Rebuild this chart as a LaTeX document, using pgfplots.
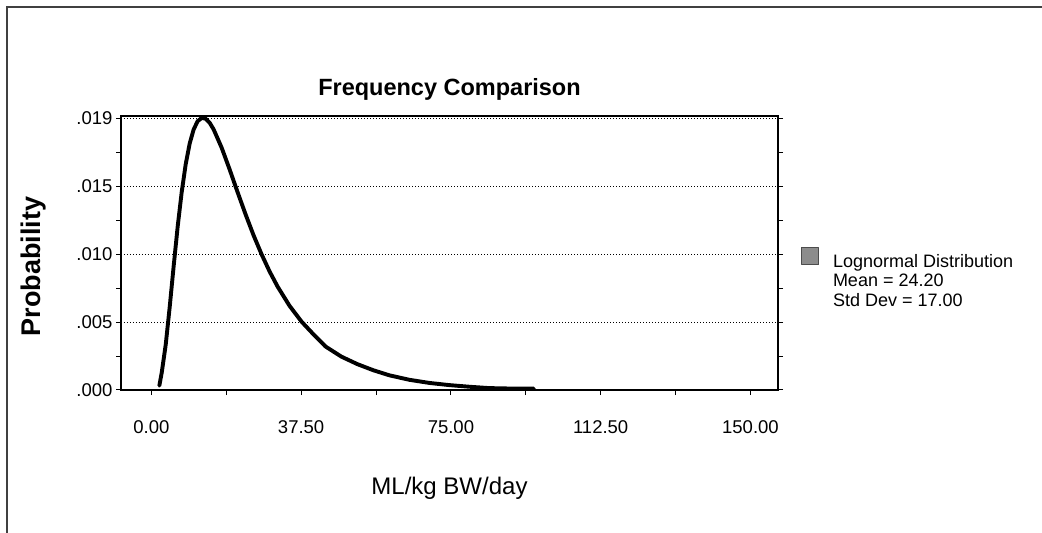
\documentclass[border=0pt]{standalone}
\usepackage{fontspec}
\setmainfont{Liberation Sans}
\usepackage{pgfplots}
\pgfplotsset{compat=1.18}
\begin{document}
\begin{tikzpicture}[x=1pt,y=1pt]
\useasboundingbox (0,0) rectangle (1042,533);
\draw[line width=1.4pt, black!75] (7,0) -- (7,526) -- (1042,526);
\begin{axis}[
  at={(121pt,143pt)}, anchor=south west,
  scale only axis, width=657pt, height=274pt,
  xmin=-7.6, xmax=156.9, ymin=0, ymax=0.02015,
  clip=false,
  scaled y ticks=false, scaled x ticks=false,
  axis line style={line width=1.3pt},
  xtick={0,37.5,75,112.5,150},
  xticklabels={0.00,37.50,75.00,112.50,150.00},
  ytick={0,0.005,0.01,0.015,0.02},
  yticklabels={.000,.005,.010,.015,.019},
  minor x tick num=1, minor y tick num=1,
  tick align=outside, xtick pos=bottom, ytick pos=both, yticklabel pos=left,
  major tick length=5pt, minor tick length=5pt,
  every tick/.style={line width=1pt, black},
  ymajorgrids,
  major grid style={line width=1pt, dash pattern=on 1pt off 2pt, black},
  /pgf/number format/assume math mode=true,
  every tick label/.append style={font=\fontsize{18.5}{20}\selectfont},
  xticklabel style={anchor=north, yshift=-22pt},
  title={Frequency Comparison},
  title style={font=\fontsize{23.5}{25}\selectfont\bfseries, at={(axis description cs:0.5,1.0545)}, anchor=base},
  xlabel={ML/kg BW/day},
  xlabel style={font=\fontsize{24}{26}\selectfont, at={(axis description cs:0.5,-0.383)}, anchor=base},
  ylabel={Probability},
  ylabel style={font=\fontsize{27}{28}\selectfont\bfseries, at={(axis description cs:-0.1324,0.45)}, anchor=center},
  legend style={draw=none, fill=none, at={(axis description cs:1.035,0.522)}, anchor=north west,
    font=\fontsize{18}{19.3}\selectfont, cells={anchor=base west}, inner sep=0pt,
    /tikz/every odd column/.append style={column sep=12pt}},
  legend image code/.code={\draw[fill=black!45, draw=black!70, line width=0.8pt] (0pt,3pt) rectangle (17pt,20pt);},
]
\addplot[black, line width=3.9pt, line join=round, line cap=round] coordinates {
(2.0,0.00032) (2.6,0.00128) (3.6,0.00334) (4.6,0.00612) (5.6,0.00915)
(6.6,0.01204) (7.6,0.01456) (8.6,0.01660) (9.6,0.01813) (10.6,0.01917)
(11.6,0.01977) (12.6,0.02001) (13.6,0.01995) (14.6,0.01965) (15.6,0.01916)
(17.6,0.01782) (19.6,0.01622) (21.6,0.01454) (23.6,0.01291) (25.6,0.01137)
(27.6,0.00998) (29.6,0.00872) (31.6,0.00761) (34.6,0.00619) (37.6,0.00503)
(40.6,0.00409) (43.6,0.00320) (47.6,0.00245) (51.6,0.00190) (55.6,0.00145)
(59.6,0.00108) (64.6,0.00075) (69.6,0.00052) (74.6,0.00036) (79.6,0.00024)
(84.6,0.00014) (89.6,0.00011) (95.75,0.00010)
};
\addlegendentry{\begin{tabular}[t]{@{}l@{}}Lognormal Distribution\\Mean = 24.20\\Std Dev = 17.00\end{tabular}}
\end{axis}
\end{tikzpicture}
\end{document}
